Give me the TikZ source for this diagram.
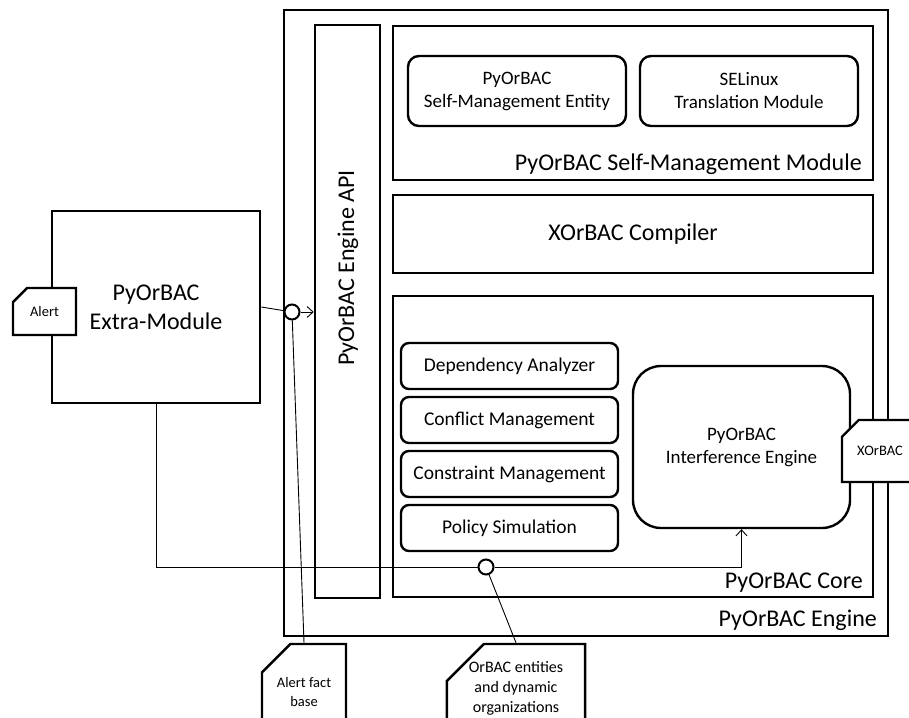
\documentclass[tikz,border=0pt]{standalone}
\usepackage{fontspec}
\setmainfont{Carlito}
\usetikzlibrary{positioning,shapes.misc,arrows.meta}

\begin{document}
\begin{tikzpicture}[x=1pt,y=-1pt,
	frame/.style={draw,line width=2.6pt,inner sep=0pt},
	bigtext/.style={font=\fontsize{24}{29}\selectfont,align=center},
	module/.style={draw,line width=2.4pt,rounded corners=11pt,inner sep=0pt,align=center,font=\fontsize{19}{23}\selectfont},
	part/.style={module,rounded corners=8pt,minimum width=217pt,minimum height=46pt,font=\fontsize{19.5}{23}\selectfont},
	card/.style={draw,fill=white,line width=2.4pt,inner sep=0pt,align=center,chamfered rectangle,chamfered rectangle corners=north west},
	hub/.style={circle,draw,fill=white,line width=2pt,minimum size=15pt,inner sep=0pt},
	tag/.style={bigtext,anchor=base east,inner sep=0pt},
	link/.style={line width=0.9pt},
	tip/.style={-{Straight Barb[length=6pt,width=11pt]}}]
	\useasboundingbox (0,0) rectangle (909,717);
	\node[frame,minimum width=604pt,minimum height=626pt] (engine) at (586,323) {};
	\node[frame,minimum width=65pt,minimum height=573pt] (api) at (347.5,311.5) {};
	\node[frame,minimum width=480pt,minimum height=154pt] (selfmod) at (633,103) {};
	\node[frame,bigtext,minimum width=480pt,minimum height=78pt] (compiler) at (633,234) {XOrBAC Compiler};
	\node[frame,minimum width=480pt,minimum height=301pt] (core) at (633,446.5) {};
	\node[module,minimum width=218pt,minimum height=70pt] (entity) at (517,91) {PyOrBAC\\Self-Management Entity};
	\node[module,minimum width=218pt,minimum height=70pt] (selinux) at (749,91) {SELinux\\Translation Module};
	\node[part] (dependency) at (509.5,366) {Dependency Analyzer};
	\node[part] (conflict) at (509.5,420) {Conflict Management};
	\node[part] (constraint) at (509.5,474) {Constraint Management};
	\node[part] (simulation) at (509.5,528) {Policy Simulation};
	\node[module,rounded corners=28pt,minimum width=217pt,minimum height=162pt] (inference) at (741.5,447) {PyOrBAC\\Interference Engine};
	\node[frame,bigtext,minimum width=208pt,minimum height=192pt] (extra) at (156,307) {PyOrBAC\\Extra-Module};
	\node[tag] (enginelabel) at (877,626) {PyOrBAC Engine};
	\node[tag] (corelabel) at (863,588) {PyOrBAC Core};
	\node[tag] (selfmodlabel) at (862,170) {PyOrBAC Self-Management Module};
	\node[bigtext,rotate=90] (apilabel) at (348,268) {PyOrBAC Engine API};
	\node[card,minimum width=63pt,minimum height=47pt,chamfered rectangle xsep=11pt,chamfered rectangle ysep=9pt,font=\fontsize{14.5}{17}\selectfont] (alert) at (44.5,311.5) {Alert};
	\node[card,minimum width=76pt,minimum height=62pt,chamfered rectangle xsep=15pt,chamfered rectangle ysep=12pt,font=\fontsize{14.5}{17}\selectfont] (xorbac) at (880,451) {XOrBAC};
	\node[card,minimum width=84pt,minimum height=96pt,chamfered rectangle xsep=16pt,chamfered rectangle ysep=14pt,font=\fontsize{14.5}{18.5}\selectfont] (factbase) at (304,692) {Alert fact\\base};
	\node[card,minimum width=124pt,minimum height=88pt,chamfered rectangle xsep=22pt,chamfered rectangle ysep=15pt,font=\fontsize{16}{20}\selectfont] (entities) at (516,688) {OrBAC entities\\and dynamic\\organizations};
	\node[hub] (apihub) at (292,312) {};
	\node[hub] (corehub) at (486,567) {};
	\draw[link] (extra.east) -- (apihub);
	\draw[link,tip] (apihub) -- (apihub -| api.west);
	\draw[link] (apihub) -- (factbase.north);
	\draw[link] (extra.south) |- (corehub);
	\draw[link,tip] (corehub) -| (inference.south);
	\draw[link] (corehub) -- (entities.north);
\end{tikzpicture}
\end{document}
